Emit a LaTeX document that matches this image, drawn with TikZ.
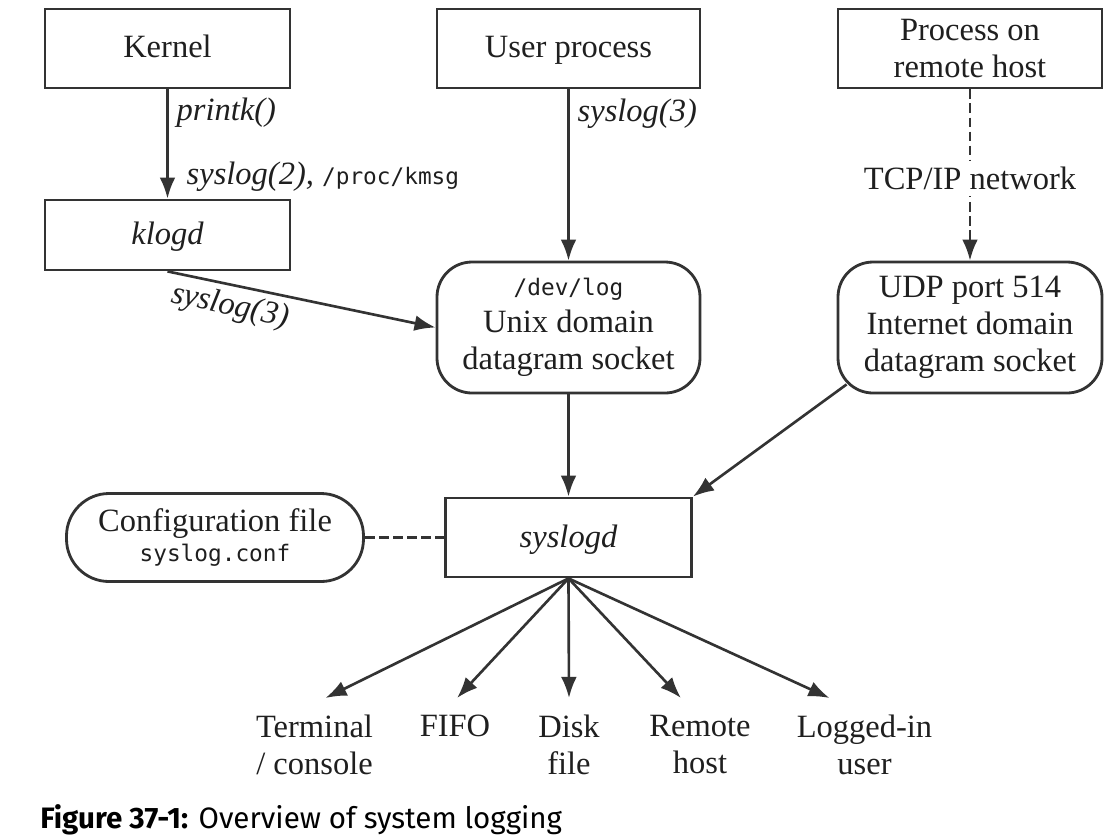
\documentclass[tikz,border=0pt]{standalone}
\usepackage{fontspec}
\setmainfont{Liberation Serif}
\setmonofont{DejaVu Sans Mono}[Scale=0.7]
\newfontfamily\capfont{Fira Sans}
\usetikzlibrary{arrows.meta}
\definecolor{ink}{HTML}{333333}

\begin{document}
\begin{tikzpicture}[
  box/.style={rectangle, draw=ink, line width=1.6pt, minimum width=4.9cm, minimum height=1.58cm, align=center},
  oneline/.style={text height=14pt, text depth=3.2pt},
  sock/.style={box, rounded corners=0.7cm, minimum width=5.26cm, minimum height=2.62cm},
  target/.style={align=center, anchor=north, inner ysep=9.5pt},
  flow/.style={->, draw=ink, line width=1.5pt},
  dash line/.style={draw=ink, line width=1.5pt, dash pattern=on 5.5pt off 2.5pt},
  >={Latex[length=12pt,width=9pt]},
  node distance=8cm,
  font=\fontsize{18.5}{21}\selectfont,
  text=black!88
]
\useasboundingbox (0,0) rectangle (22.36,-16.76);

% sources
\node[box, oneline] (kernel) at (3.35,-0.97) {Kernel};
\node[box, oneline, right of=kernel, node distance=8.02cm, minimum width=5.26cm] (user) {User process};
\node[box, right of=user, node distance=8.03cm, minimum width=5.28cm] (remote) {Process on\\remote host};
\node[box, oneline, below of=kernel, node distance=3.73cm, minimum height=1.4cm] (klogd) {\itshape klogd};

% sockets
\node[sock, below of=user, node distance=5.58cm] (devlog) {\texttt{/dev/log}\\Unix domain\\datagram socket};
\node[sock, below of=remote, node distance=5.58cm, minimum width=5.28cm] (udp) {UDP port 514\\Internet domain\\datagram socket};

% daemon and its config
\node[box, oneline, below of=devlog, node distance=4.2cm, minimum width=4.92cm] (syslogd) {\itshape syslogd};
\node[sock, left of=syslogd, node distance=7.07cm, minimum width=5.94cm, minimum height=1.76cm, rounded corners=0.85cm] (conf) {Configuration file\\[-4pt]\texttt{syslog.conf}};

% destinations
\node[target] (term) at (6.29,-13.96) {Terminal\\/ console};
\node[target] (fifo) at (9.1,-13.96) {FIFO};
\node[target] (disk) at (11.38,-13.96) {Disk\\file};
\node[target] (rhost) at (14.0,-13.96) {Remote\\host};
\node[target] (luser) at (17.29,-13.96) {Logged-in\\user};

\draw[flow] (kernel) -- node[pos=0.21, right, xshift=0.04cm] {\itshape printk()}
  node[pos=0.8, right, xshift=0.24cm] {\itshape syslog(2), \upshape\texttt{/proc/kmsg}} (klogd);
\draw[flow] (user) -- node[pos=0.14, right, xshift=0.04cm] {\itshape syslog(3)} (devlog);
\draw[flow] (klogd.south) -- node[pos=0.25, below, sloped] {\itshape syslog(3)} (devlog.west);
\draw[flow, dash line] (remote) -- node[pos=0.52, fill=white] {TCP/IP network} (udp);
\draw[flow] (devlog) -- (syslogd);
\draw[flow] ([shift={(0.2,0.2)}]udp.south west) -- (syslogd.north east);
\draw[dash line] (conf) -- (syslogd);

\draw[flow] (syslogd.south) -- ([xshift=0.22cm]term.north);
\draw[flow] (syslogd.south) -- ([xshift=0.04cm]fifo.north);
\draw[flow] (syslogd.south) -- (disk.north);
\draw[flow] (syslogd.south) -- ([xshift=-0.38cm]rhost.north);
\draw[flow] (syslogd.south) -- ([xshift=-0.7cm]luser.north);

\node[anchor=base west, inner sep=0, font=\capfont\fontsize{16.8}{19}\selectfont, text=black] (caption) at (0.8,-16.56)
  {\textbf{Figure 37-1:} Overview of system logging};
\end{tikzpicture}
\end{document}
